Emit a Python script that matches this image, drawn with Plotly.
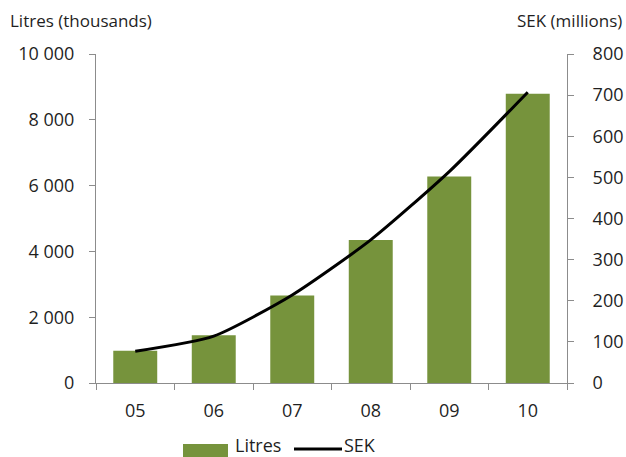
import plotly.graph_objects as go

# Yearly volumes and values
years = ["05", "06", "07", "08", "09", "10"]
litres_thousands = [980, 1450, 2660, 4350, 6280, 8790]
sek_millions = [77, 114, 214, 348, 514, 707]

left_ticks = [0, 2000, 4000, 6000, 8000, 10000]
left_tick_text = ["0", "2 000", "4 000", "6 000", "8 000", "10 000"]
right_ticks = [0, 100, 200, 300, 400, 500, 600, 700, 800]

FONT = "Open Sans"
TEXT = "#1f1f1f"
AXIS = "#8c8c8c"
BAR = "#76933c"

W, H = 626, 457
L, R, T, B = 96, 59, 54, 74
PW, PH = W - L - R, H - T - B


def px_x(x):
    return (x - L) / PW


def px_y(y):
    return (H - B - y) / PH


fig = go.Figure()
fig.add_trace(go.Bar(
    x=years, y=litres_thousands, name="Litres",
    marker=dict(color=BAR, line=dict(width=0)),
    yaxis="y",
))
fig.add_trace(go.Scatter(
    x=years, y=sek_millions, name="SEK", mode="lines",
    line=dict(color="black", width=3, shape="spline", smoothing=0.6),
    yaxis="y2",
))

# Legend drawn as shapes so the bar key is a wide swatch
legend_shapes = [
    dict(type="rect", xref="paper", yref="paper",
         x0=px_x(183), x1=px_x(228), y0=px_y(457), y1=px_y(444),
         fillcolor=BAR, line=dict(width=0), layer="above"),
    dict(type="line", xref="paper", yref="paper",
         x0=px_x(294), x1=px_x(342), y0=px_y(449), y1=px_y(449),
         line=dict(color="black", width=3), layer="above"),
]

fig.update_layout(
    width=W, height=H,
    margin=dict(l=L, r=R, t=T, b=B, autoexpand=False),
    paper_bgcolor="white", plot_bgcolor="white",
    font=dict(family=FONT, size=18, color=TEXT),
    bargap=0.44,
    showlegend=False,
    shapes=legend_shapes,
    xaxis=dict(
        type="category", showgrid=False, showline=True, linecolor=AXIS, linewidth=1,
        ticks="outside", tickson="boundaries", ticklen=6, tickcolor=AXIS,
        tickfont=dict(size=18), zeroline=False, ticklabelstandoff=11,
    ),
    yaxis=dict(
        range=[0, 10000], tickvals=left_ticks, ticktext=left_tick_text,
        showgrid=False, showline=True, linecolor=AXIS, linewidth=1,
        ticks="outside", ticklen=6, tickcolor=AXIS, zeroline=False,
        ticklabelstandoff=11, tickfont=dict(size=18),
    ),
    yaxis2=dict(
        range=[0, 800], tickvals=right_ticks, overlaying="y", side="right",
        showgrid=False, showline=True, linecolor=AXIS, linewidth=1,
        ticks="outside", ticklen=6, tickcolor=AXIS, zeroline=False,
        ticklabelstandoff=15, tickfont=dict(size=18),
    ),
    annotations=[
        dict(text="Litres (thousands)", xref="paper", yref="paper", x=px_x(8), y=px_y(20),
             xanchor="left", yanchor="middle", showarrow=False,
             font=dict(size=17, color=TEXT)),
        dict(text="SEK (millions)", xref="paper", yref="paper", x=px_x(624), y=px_y(20),
             xanchor="right", yanchor="middle", showarrow=False,
             font=dict(size=17, color=TEXT)),
        dict(text="Litres", xref="paper", yref="paper", x=px_x(234), y=px_y(445),
             xanchor="left", yanchor="middle", showarrow=False, borderpad=0,
             font=dict(size=18, color=TEXT)),
        dict(text="SEK", xref="paper", yref="paper", x=px_x(343), y=px_y(445),
             xanchor="left", yanchor="middle", showarrow=False, borderpad=0,
             font=dict(size=18, color=TEXT)),
    ],
)

fig.write_html("out.html")
